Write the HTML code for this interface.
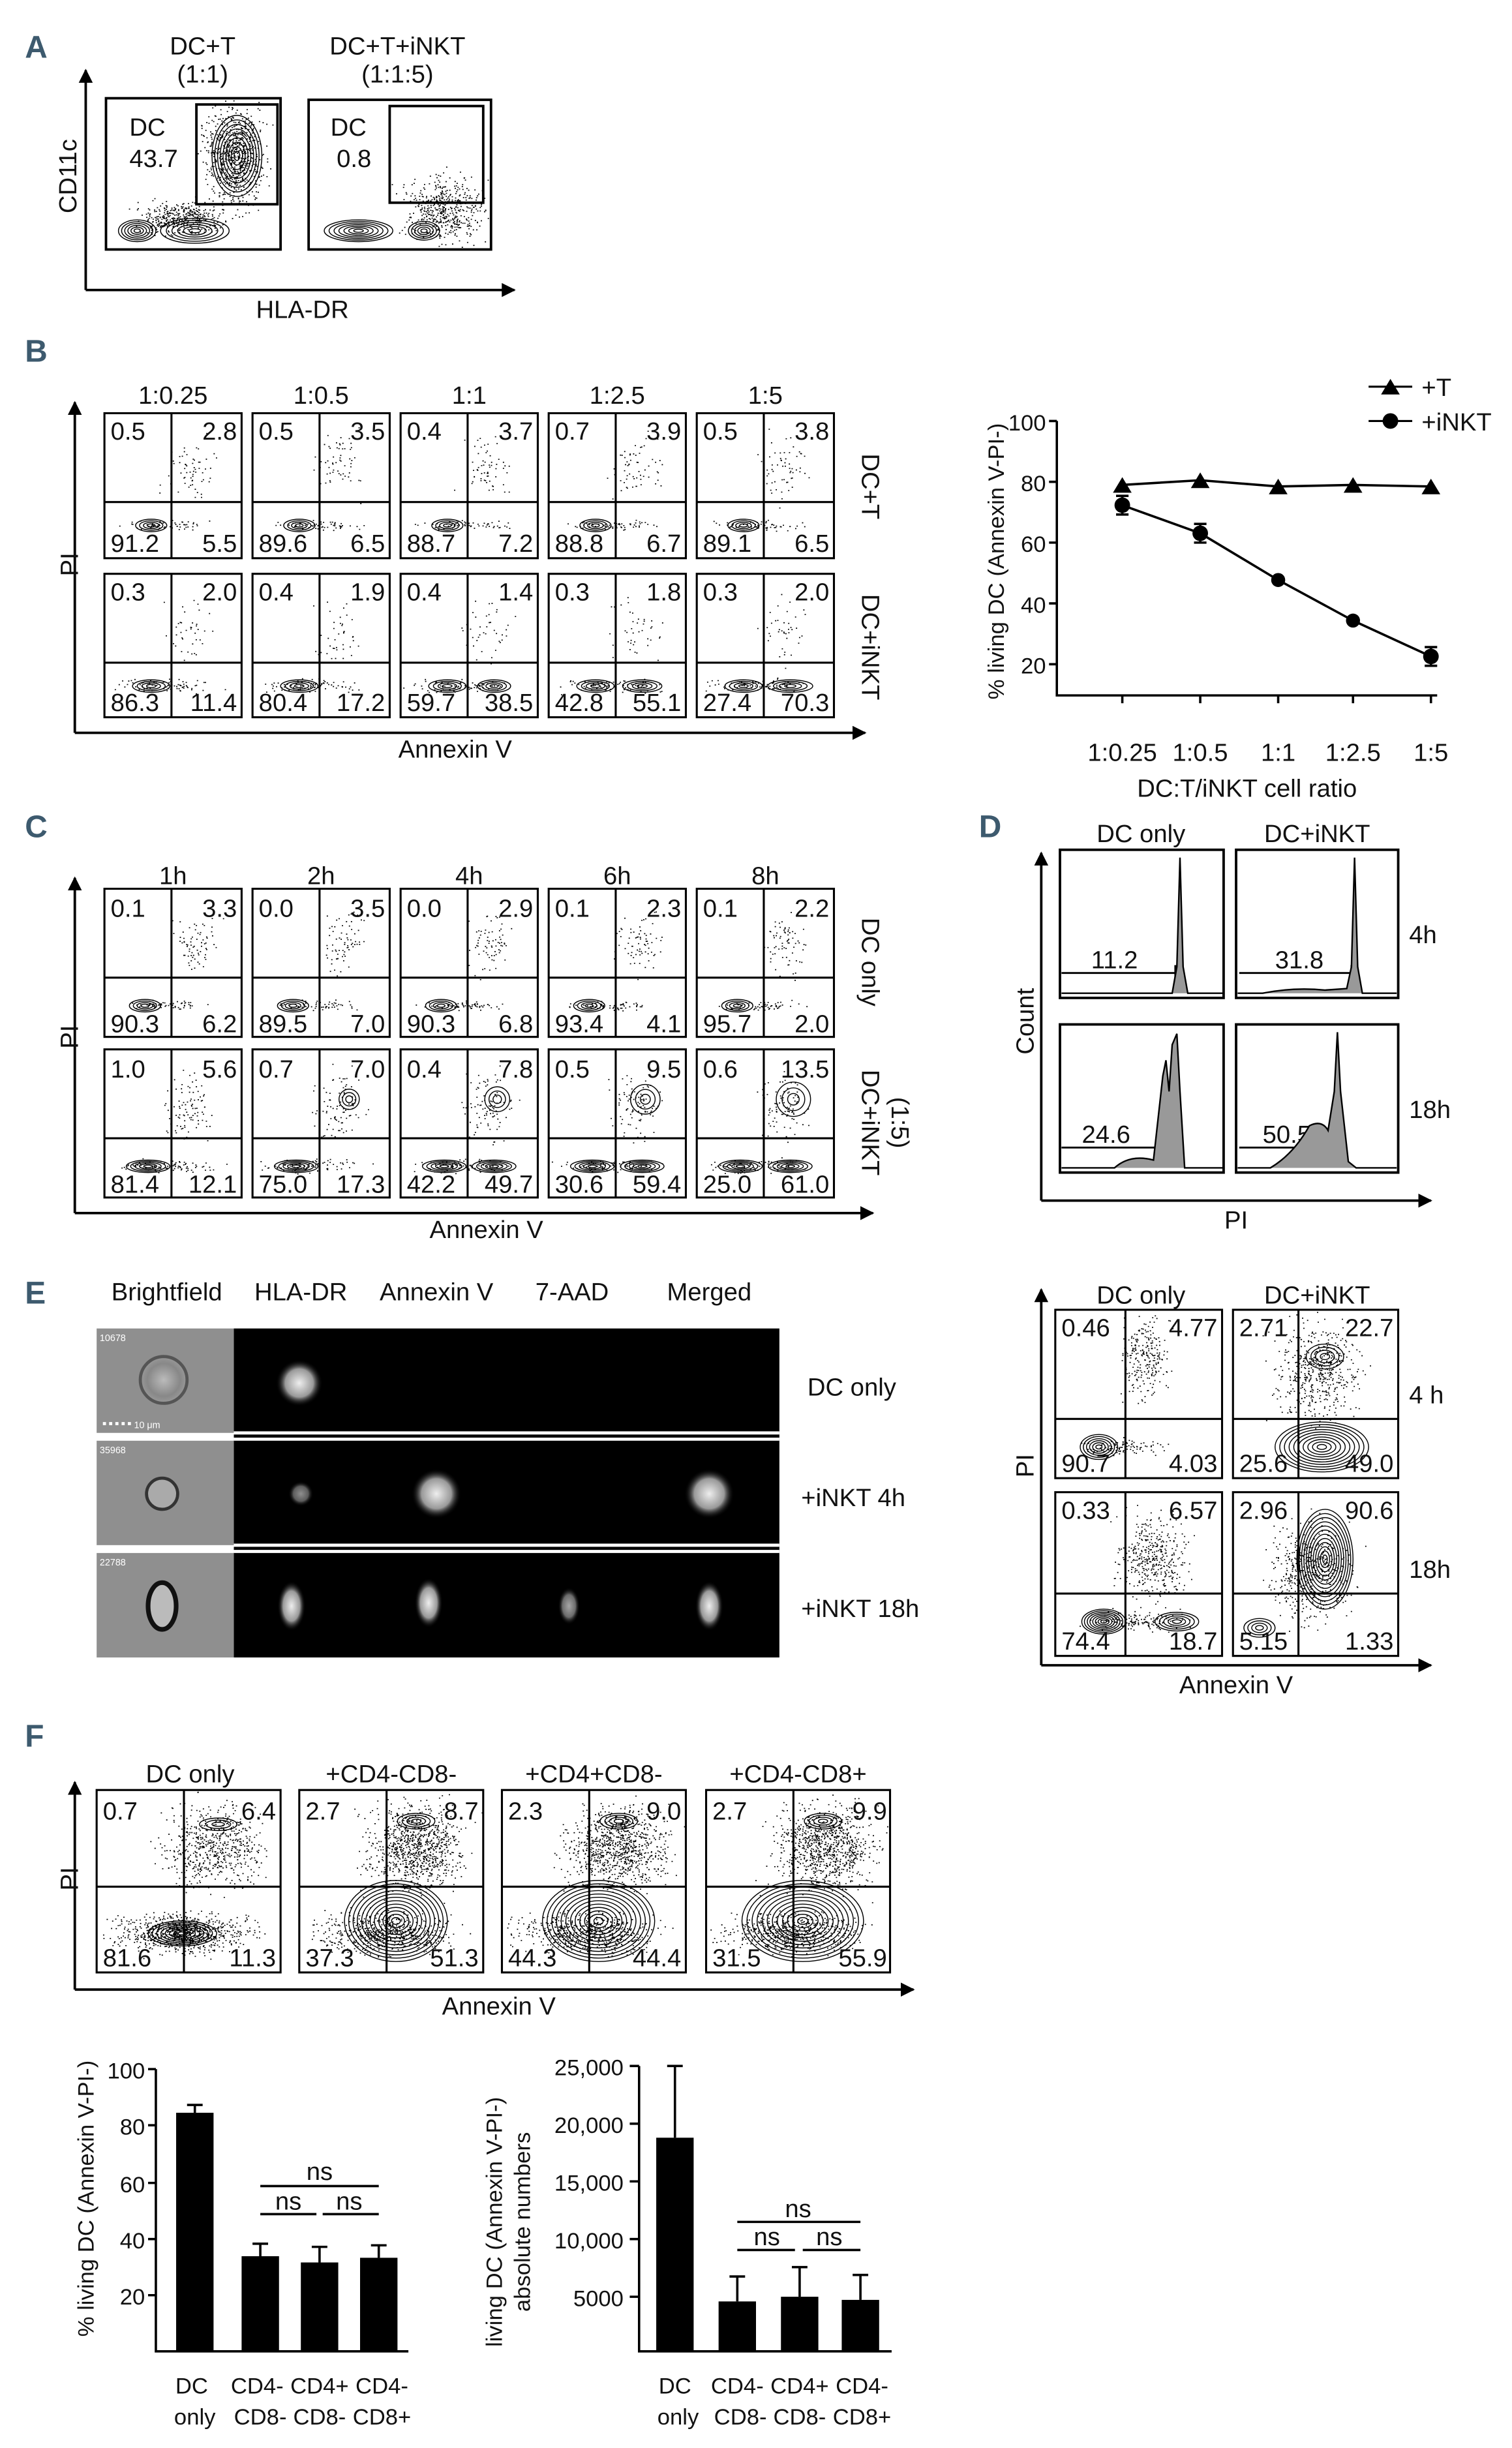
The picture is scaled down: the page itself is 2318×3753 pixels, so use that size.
<!DOCTYPE html>
<html><head><meta charset="utf-8"><style>
html,body{margin:0;padding:0;background:#fff}
svg{display:block}
text{font-family:"Liberation Sans Narrow","Liberation Sans",sans-serif;fill:#111}
.n{font-size:16px}
.l{font-size:16px}
.s{font-size:14.5px}
.L{font-size:20px;font-weight:bold;fill:#3d5a6e}
.e{text-anchor:end}
.m{text-anchor:middle}
</style></head><body>
<svg id="s" width="2318" height="3753" viewBox="0 0 970 1570" preserveAspectRatio="none" xmlns="http://www.w3.org/2000/svg">
<defs>
<marker id="ar" viewBox="0 0 10 10" refX="9" refY="5" markerWidth="9" markerHeight="9" orient="auto" markerUnits="userSpaceOnUse"><path d="M0,0L10,5L0,10z" fill="#000"/></marker>
<radialGradient id="cell" cx="50%" cy="50%" r="50%"><stop offset="0" stop-color="#bbb"/><stop offset="0.7" stop-color="#888"/><stop offset="1" stop-color="#999"/></radialGradient>
<radialGradient id="glow" cx="50%" cy="50%" r="50%"><stop offset="0" stop-color="#eee"/><stop offset="0.6" stop-color="#999"/><stop offset="1" stop-color="#000" stop-opacity="0"/></radialGradient>
</defs>
<g id="dyn"></g>
<g stroke="#000" stroke-width="1.6" fill="none">
<path d="M55,186V45" marker-end="url(#ar)"/><path d="M55,186H330" marker-end="url(#ar)"/>
<rect x="68" y="63" width="112" height="97"/><rect x="198" y="64" width="117" height="96"/>
<rect x="126" y="67" width="52" height="64"/><rect x="250" y="68" width="60" height="62"/>
<path d="M48,470V258" marker-end="url(#ar)"/><path d="M48,470H555" marker-end="url(#ar)"/>
<path d="M48,778V563" marker-end="url(#ar)"/><path d="M48,778H560" marker-end="url(#ar)"/>
<path d="M668,770V547" marker-end="url(#ar)"/><path d="M668,770H918" marker-end="url(#ar)"/>
<rect x="680" y="545" width="105" height="95"/><rect x="793" y="545" width="104" height="95"/>
<rect x="680" y="657" width="105" height="95"/><rect x="793" y="657" width="104" height="95"/>
<path d="M668,1068V827" marker-end="url(#ar)"/><path d="M668,1068H918" marker-end="url(#ar)"/>
<path d="M48,1276V1143" marker-end="url(#ar)"/><path d="M48,1276H586" marker-end="url(#ar)"/>
</g>
<g id="boxes" stroke="#000" stroke-width="1.3" fill="none"></g>

<text class="L" x="16" y="37">A</text>
<text class="L" x="16" y="232">B</text>
<text class="L" x="16" y="537">C</text>
<text class="L" x="628" y="537">D</text>
<text class="L" x="16" y="836">E</text>
<text class="L" x="16" y="1120">F</text>

<text class="l m" x="130" y="35">DC+T</text><text class="l m" x="130" y="53">(1:1)</text>
<text class="l m" x="255" y="35">DC+T+iNKT</text><text class="l m" x="255" y="53">(1:1:5)</text>
<text class="l" x="83" y="87">DC</text><text class="l" x="83" y="107">43.7</text>
<text class="l" x="212" y="87">DC</text><text class="l" x="216" y="107">0.8</text>
<text class="l m" transform="translate(49,113) rotate(-90)">CD11c</text>
<text class="l m" x="194" y="204">HLA-DR</text>

<text class="l m" x="111" y="259">1:0.25</text><text class="l m" x="206" y="259">1:0.5</text><text class="l m" x="301" y="259">1:1</text><text class="l m" x="396" y="259">1:2.5</text><text class="l m" x="491" y="259">1:5</text>
<text class="l m" transform="translate(50,362) rotate(-90)">PI</text>
<text class="l m" x="292" y="486">Annexin V</text>
<text class="l m" transform="translate(553,312) rotate(90)">DC+T</text>
<text class="l m" transform="translate(553,415) rotate(90)">DC+iNKT</text>
<g class="n">
<text x="71" y="282">0.5</text><text class="e" x="152" y="282">2.8</text><text x="71" y="354">91.2</text><text class="e" x="152" y="354">5.5</text>
<text x="166" y="282">0.5</text><text class="e" x="247" y="282">3.5</text><text x="166" y="354">89.6</text><text class="e" x="247" y="354">6.5</text>
<text x="261" y="282">0.4</text><text class="e" x="342" y="282">3.7</text><text x="261" y="354">88.7</text><text class="e" x="342" y="354">7.2</text>
<text x="356" y="282">0.7</text><text class="e" x="437" y="282">3.9</text><text x="356" y="354">88.8</text><text class="e" x="437" y="354">6.7</text>
<text x="451" y="282">0.5</text><text class="e" x="532" y="282">3.8</text><text x="451" y="354">89.1</text><text class="e" x="532" y="354">6.5</text>
<text x="71" y="385">0.3</text><text class="e" x="152" y="385">2.0</text><text x="71" y="456">86.3</text><text class="e" x="152" y="456">11.4</text>
<text x="166" y="385">0.4</text><text class="e" x="247" y="385">1.9</text><text x="166" y="456">80.4</text><text class="e" x="247" y="456">17.2</text>
<text x="261" y="385">0.4</text><text class="e" x="342" y="385">1.4</text><text x="261" y="456">59.7</text><text class="e" x="342" y="456">38.5</text>
<text x="356" y="385">0.3</text><text class="e" x="437" y="385">1.8</text><text x="356" y="456">42.8</text><text class="e" x="437" y="456">55.1</text>
<text x="451" y="385">0.3</text><text class="e" x="532" y="385">2.0</text><text x="451" y="456">27.4</text><text class="e" x="532" y="456">70.3</text>
</g>

<g stroke="#000" stroke-width="1.5" fill="none">
<path d="M678,270V446H922"/>
<path d="M673,270H678M673,309H678M673,348H678M673,387H678M673,426H678"/>
<path d="M720,446v5M770,446v5M820,446v5M868,446v5M918,446v5"/>
<path d="M720,311L770,308L820,312L868,311L918,312"/>
<path d="M720,324L770,342L820,372L868,398L918,421"/>
<path d="M720,318v12M716,318h8M716,330h8M770,336v12M766,336h8M766,348h8M918,415v12M914,415h8M914,427h8"/>
</g>
<g fill="#000">
<path d="M714,316l6,-10l6,10z M764,313l6,-10l6,10z M814,317l6,-10l6,10z M862,316l6,-10l6,10z M912,317l6,-10l6,10z"/>
<circle cx="720" cy="324" r="5"/><circle cx="770" cy="342" r="5"/><circle cx="820" cy="372" r="4.5"/><circle cx="868" cy="398" r="4.5"/><circle cx="918" cy="421" r="5"/>
<path d="M886,253l6,-10l6,10z"/><circle cx="892" cy="270" r="5"/>
</g>
<path d="M878,248H906M878,270H906" stroke="#000" stroke-width="1.3"/>
<text class="l" x="912" y="254">+T</text><text class="l" x="912" y="276">+iNKT</text>
<g class="s e"><text x="671" y="276">100</text><text x="671" y="315">80</text><text x="671" y="354">60</text><text x="671" y="393">40</text><text x="671" y="432">20</text></g>
<g class="l m"><text x="720" y="488">1:0.25</text><text x="770" y="488">1:0.5</text><text x="820" y="488">1:1</text><text x="868" y="488">1:2.5</text><text x="918" y="488">1:5</text></g>
<text class="l m" x="800" y="511">DC:T/iNKT cell ratio</text>
<text class="s m" transform="translate(644,360) rotate(-90)">% living DC  (Annexin V-PI-)</text>

<text class="l m" x="111" y="567">1h</text><text class="l m" x="206" y="567">2h</text><text class="l m" x="301" y="567">4h</text><text class="l m" x="396" y="567">6h</text><text class="l m" x="491" y="567">8h</text>
<text class="l m" transform="translate(50,665) rotate(-90)">PI</text>
<text class="l m" x="312" y="794">Annexin V</text>
<text class="l m" transform="translate(553,617) rotate(90)">DC only</text>
<text class="l m" transform="translate(553,720) rotate(90)">DC+iNKT</text>
<text class="l m" transform="translate(572,720) rotate(90)">(1:5)</text>
<g class="n">
<text x="71" y="588">0.1</text><text class="e" x="152" y="588">3.3</text><text x="71" y="662">90.3</text><text class="e" x="152" y="662">6.2</text>
<text x="166" y="588">0.0</text><text class="e" x="247" y="588">3.5</text><text x="166" y="662">89.5</text><text class="e" x="247" y="662">7.0</text>
<text x="261" y="588">0.0</text><text class="e" x="342" y="588">2.9</text><text x="261" y="662">90.3</text><text class="e" x="342" y="662">6.8</text>
<text x="356" y="588">0.1</text><text class="e" x="437" y="588">2.3</text><text x="356" y="662">93.4</text><text class="e" x="437" y="662">4.1</text>
<text x="451" y="588">0.1</text><text class="e" x="532" y="588">2.2</text><text x="451" y="662">95.7</text><text class="e" x="532" y="662">2.0</text>
<text x="71" y="691">1.0</text><text class="e" x="152" y="691">5.6</text><text x="71" y="765">81.4</text><text class="e" x="152" y="765">12.1</text>
<text x="166" y="691">0.7</text><text class="e" x="247" y="691">7.0</text><text x="166" y="765">75.0</text><text class="e" x="247" y="765">17.3</text>
<text x="261" y="691">0.4</text><text class="e" x="342" y="691">7.8</text><text x="261" y="765">42.2</text><text class="e" x="342" y="765">49.7</text>
<text x="356" y="691">0.5</text><text class="e" x="437" y="691">9.5</text><text x="356" y="765">30.6</text><text class="e" x="437" y="765">59.4</text>
<text x="451" y="691">0.6</text><text class="e" x="532" y="691">13.5</text><text x="451" y="765">25.0</text><text class="e" x="532" y="765">61.0</text>
</g>

<text class="l m" x="732" y="540">DC only</text><text class="l m" x="845" y="540">DC+iNKT</text>
<text class="l" x="904" y="605">4h</text><text class="l" x="904" y="717">18h</text>
<text class="l m" transform="translate(663,655) rotate(-90)">Count</text>
<text class="l m" x="793" y="788">PI</text>
<text class="l" x="700" y="621">11.2</text><text class="l" x="818" y="621">31.8</text>
<text class="l" x="694" y="733">24.6</text><text class="l" x="810" y="733">50.5</text>
<g stroke="#000" stroke-width="1.2" fill="none">
<path d="M681,624H754M754,619v10M795,624H867M867,619v10M681,736H745M745,731v10M795,736H858M858,731v10"/>
</g>
<g stroke="#000" stroke-width="1" fill="#999">
<path d="M681,637H752L755,620L757,550L759,620L762,637H785"/>
<path d="M794,637H810Q830,633 850,635L864,634L867,620L869,550L871,620L874,637H896"/>
<path d="M681,749H715Q725,740 740,744L746,690L748,680L750,700L752,670L755,663L757,700L760,749H785"/>
<path d="M794,749H815Q830,740 840,722Q848,718 852,725L856,700L858,662L860,700L865,745L870,749H896"/>
</g>

<rect x="150" y="852" width="350" height="211" fill="#000"/>
<rect x="62" y="852" width="88" height="67" fill="#8f8f8f"/>
<rect x="62" y="924" width="88" height="67" fill="#8f8f8f"/>
<rect x="62" y="996" width="88" height="67" fill="#8f8f8f"/>
<path d="M150,919H500M150,923H500M150,991H500M150,995H500" stroke="#fff" stroke-width="2"/>
<path d="M62,921H150M62,993H150" stroke="#fff" stroke-width="4"/>
<circle cx="105" cy="885" r="15" fill="url(#cell)" stroke="#555" stroke-width="2"/>
<circle cx="104" cy="958" r="10" fill="#aaa" stroke="#333" stroke-width="2"/>
<ellipse cx="104" cy="1030" rx="9" ry="15" fill="#bbb" stroke="#111" stroke-width="3"/>
<circle cx="192" cy="887" r="15" fill="url(#glow)"/>
<circle cx="280" cy="958" r="16" fill="url(#glow)"/><circle cx="455" cy="958" r="16" fill="url(#glow)"/>
<circle cx="193" cy="958" r="8" fill="url(#glow)" opacity="0.6"/>
<ellipse cx="187" cy="1030" rx="9" ry="16" fill="url(#glow)"/><ellipse cx="275" cy="1028" rx="9" ry="16" fill="url(#glow)"/><ellipse cx="365" cy="1030" rx="7" ry="12" fill="url(#glow)" opacity="0.7"/><ellipse cx="455" cy="1030" rx="9" ry="16" fill="url(#glow)"/>
<text x="64" y="860" style="font-size:6px;fill:#fff">10678</text><text x="64" y="932" style="font-size:6px;fill:#fff">35968</text><text x="64" y="1004" style="font-size:6px;fill:#fff">22788</text>
<path d="M66,913h18" stroke="#fff" stroke-width="2" stroke-dasharray="2,2"/><text x="86" y="916" style="font-size:6px;fill:#fff">10 μm</text>
<g class="l m"><text x="107" y="834">Brightfield</text><text x="193" y="834">HLA-DR</text><text x="280" y="834">Annexin V</text><text x="367" y="834">7-AAD</text><text x="455" y="834">Merged</text></g>
<text class="l" x="518" y="895">DC only</text><text class="l" x="514" y="966">+iNKT 4h</text><text class="l" x="514" y="1037">+iNKT 18h</text>

<text class="l m" x="732" y="836">DC only</text><text class="l m" x="845" y="836">DC+iNKT</text>
<text class="l" x="904" y="900">4 h</text><text class="l" x="904" y="1012">18h</text>
<text class="l m" transform="translate(663,940) rotate(-90)">PI</text>
<text class="l m" x="793" y="1086">Annexin V</text>
<g class="n">
<text x="681" y="857">0.46</text><text class="e" x="781" y="857">4.77</text><text x="681" y="944">90.7</text><text class="e" x="781" y="944">4.03</text>
<text x="795" y="857">2.71</text><text class="e" x="894" y="857">22.7</text><text x="795" y="944">25.6</text><text class="e" x="894" y="944">49.0</text>
<text x="681" y="974">0.33</text><text class="e" x="781" y="974">6.57</text><text x="681" y="1058">74.4</text><text class="e" x="781" y="1058">18.7</text>
<text x="795" y="974">2.96</text><text class="e" x="894" y="974">90.6</text><text x="795" y="1058">5.15</text><text class="e" x="894" y="1058">1.33</text>
</g>

<g class="l m"><text x="122" y="1143">DC only</text><text x="251" y="1143">+CD4-CD8-</text><text x="381" y="1143">+CD4+CD8-</text><text x="512" y="1143">+CD4-CD8+</text></g>
<text class="l m" transform="translate(50,1205) rotate(-90)">PI</text>
<text class="l m" x="320" y="1292">Annexin V</text>
<g class="n">
<text x="66" y="1167">0.7</text><text class="e" x="177" y="1167">6.4</text><text x="66" y="1261">81.6</text><text class="e" x="177" y="1261">11.3</text>
<text x="196" y="1167">2.7</text><text class="e" x="307" y="1167">8.7</text><text x="196" y="1261">37.3</text><text class="e" x="307" y="1261">51.3</text>
<text x="326" y="1167">2.3</text><text class="e" x="437" y="1167">9.0</text><text x="326" y="1261">44.3</text><text class="e" x="437" y="1261">44.4</text>
<text x="457" y="1167">2.7</text><text class="e" x="569" y="1167">9.9</text><text x="457" y="1261">31.5</text><text class="e" x="569" y="1261">55.9</text>
</g>

<g stroke="#000" stroke-width="1.5" fill="none">
<path d="M100,1327V1508H262"/>
<path d="M95,1327H100M95,1363H100M95,1400H100M95,1436H100M95,1472H100"/>
<path d="M125,1355v-5M120,1350h10M167,1447v-8M162,1439h10M205,1451v-10M200,1441h10M243,1448v-8M238,1440h10"/>
<path d="M167,1402H243M167,1420H203M207,1420H243"/>
</g>
<g fill="#000"><rect x="113" y="1355" width="24" height="153"/><rect x="155" y="1447" width="24" height="61"/><rect x="193" y="1451" width="24" height="57"/><rect x="231" y="1448" width="24" height="60"/></g>
<g class="s e"><text x="93" y="1333">100</text><text x="93" y="1369">80</text><text x="93" y="1406">60</text><text x="93" y="1442">40</text><text x="93" y="1478">20</text></g>
<text class="l m" x="205" y="1398">ns</text><text class="l m" x="185" y="1417">ns</text><text class="l m" x="224" y="1417">ns</text>
<text class="s m" transform="translate(60,1410) rotate(-90)">% living DC  (Annexin V-PI-)</text>
<g class="s m"><text x="123" y="1535">DC</text><text x="125" y="1555">only</text><text x="165" y="1535">CD4-</text><text x="167" y="1555">CD8-</text><text x="205" y="1535">CD4+</text><text x="205" y="1555">CD8-</text><text x="245" y="1535">CD4-</text><text x="245" y="1555">CD8+</text></g>

<g stroke="#000" stroke-width="1.5" fill="none">
<path d="M410,1325V1508H572"/>
<path d="M404,1325H410M404,1362H410M404,1399H410M404,1436H410M404,1473H410"/>
<path d="M433,1371v-46M428,1325h10M473,1476v-16M468,1460h10M513,1473v-19M508,1454h10M552,1475v-16M547,1459h10"/>
<path d="M473,1425H552M473,1443H510M515,1443H552"/>
</g>
<g fill="#000"><rect x="421" y="1371" width="24" height="137"/><rect x="461" y="1476" width="24" height="32"/><rect x="501" y="1473" width="24" height="35"/><rect x="540" y="1475" width="24" height="33"/></g>
<g class="s e"><text x="400" y="1331">25,000</text><text x="400" y="1368">20,000</text><text x="400" y="1405">15,000</text><text x="400" y="1442">10,000</text><text x="400" y="1479">5000</text></g>
<text class="l m" x="512" y="1422">ns</text><text class="l m" x="492" y="1440">ns</text><text class="l m" x="532" y="1440">ns</text>
<text class="s m" transform="translate(322,1425) rotate(-90)">living DC  (Annexin V-PI-)</text>
<text class="s m" transform="translate(340,1425) rotate(-90)">absolute numbers</text>
<g class="s m"><text x="433" y="1535">DC</text><text x="435" y="1555">only</text><text x="473" y="1535">CD4-</text><text x="475" y="1555">CD8-</text><text x="513" y="1535">CD4+</text><text x="513" y="1555">CD8-</text><text x="553" y="1535">CD4-</text><text x="553" y="1555">CD8+</text></g>
</svg>
<script>
(function(){
var dyn=document.getElementById("dyn"),bx=document.getElementById("boxes");
var seed=7;function r(){seed=(seed*16807)%2147483647;return seed/2147483647;}
function g(){return (r()+r()+r()-1.5)/0.5*0.5;}
var pts="";
function dots(x0,y0,w,h,cx,cy,sx,sy,n){for(var i=0;i<n;i++){var x=cx+g()*sx,y=cy+g()*sy;if(x>x0+1&&x<x0+w-1&&y>y0+1&&y<y0+h-1)pts+="M"+x.toFixed(1)+","+y.toFixed(1)+"h0.8";}}
var cont="";
function ell(cx,cy,rx,ry,k){for(var i=1;i<=k;i++){var f=i/k;cont+='<ellipse cx="'+cx+'" cy="'+cy+'" rx="'+(rx*f).toFixed(1)+'" ry="'+(ry*f).toFixed(1)+'"/>';}}
var bl="";
function box(x,y,w,h,vx,hy){bl+='<rect x="'+x+'" y="'+y+'" width="'+w+'" height="'+h+'"/>';if(vx)bl+='<path d="M'+vx+','+y+'V'+(y+h)+'M'+x+','+hy+'H'+(x+w)+'"/>';}
dots(68,63,112,97,150,100,18,30,700);dots(68,63,112,97,115,140,25,10,400);ell(152,100,16,26,9);ell(88,148,12,7,6);ell(125,148,22,8,6);
dots(198,64,117,96,285,135,25,20,500);ell(230,148,22,7,7);ell(272,148,10,6,5);
var cols=[67,162,257,352,447];
var dB=[0.11,0.17,0.38,0.55,0.70];
cols.forEach(function(x,i){
 box(x,265,88,93,x+43,322);box(x,368,88,92,x+43,425);
 dots(x,265,88,93,x+55,300,15,20,60);dots(x,265,88,93,x+40,337,25,3,60);ell(x+30,337,10,4,4);
 dots(x,368,88,92,x+55,405,15,20,40);dots(x,368,88,92,x+40,440,30,4,80);
 ell(x+30,440,12,4,4);if(i>=2)ell(x+60,440,12*dB[i]+6,4,4);
});
cols.forEach(function(x,i){
 box(x,570,88,95,x+43,627);box(x,673,88,95,x+43,730);
 dots(x,570,88,95,x+58,605,13,18,70);dots(x,570,88,95,x+40,645,25,3,60);ell(x+26,645,10,4,4);
 dots(x,673,88,95,x+55,710,15,20,90);dots(x,673,88,95,x+40,748,30,4,80);
 ell(x+28,748,14,4,5);if(i>=2)ell(x+60,748,14,4,5);if(i>=1)ell(x+62,705,5+i*1.5,5+i*1.5,3);
});
box(677,840,107,108,722,910);box(791,840,106,108,833,910);box(677,957,107,105,722,1022);box(791,957,106,105,833,1022);
dots(677,840,107,108,735,870,14,25,250);dots(677,840,107,108,720,928,25,5,100);ell(705,928,12,8,6);
dots(791,840,106,108,845,880,25,30,500);ell(848,928,30,16,10);ell(850,870,12,8,4);
dots(677,957,107,105,740,1000,20,25,400);dots(677,957,107,105,730,1040,30,6,150);ell(708,1040,14,8,8);ell(755,1040,14,6,5);
dots(791,957,106,105,840,1010,25,30,500);ell(850,1000,18,32,12);ell(808,1044,10,6,4);
[62,192,322,453].forEach(function(x,i){
 box(x,1148,118,117,x+56,1210);
 dots(x,1148,118,117,x+75,1185,30,25,i?900:600);dots(x,1148,118,117,x+55,1240,40,12,i?600:800);
 if(i==0){ell(x+55,1240,22,8,8);ell(x+78,1170,12,4,3);}else{ell(x+62,1232,30+i*3,26,12);ell(x+75,1168,12,5,4);}
});
dyn.innerHTML='<path d="'+pts+'" stroke="#000" stroke-width="0.7" fill="none"/><g stroke="#000" stroke-width="0.6" fill="none">'+cont+'</g>';
bx.innerHTML=bl;
})();
</script>
</body></html>
